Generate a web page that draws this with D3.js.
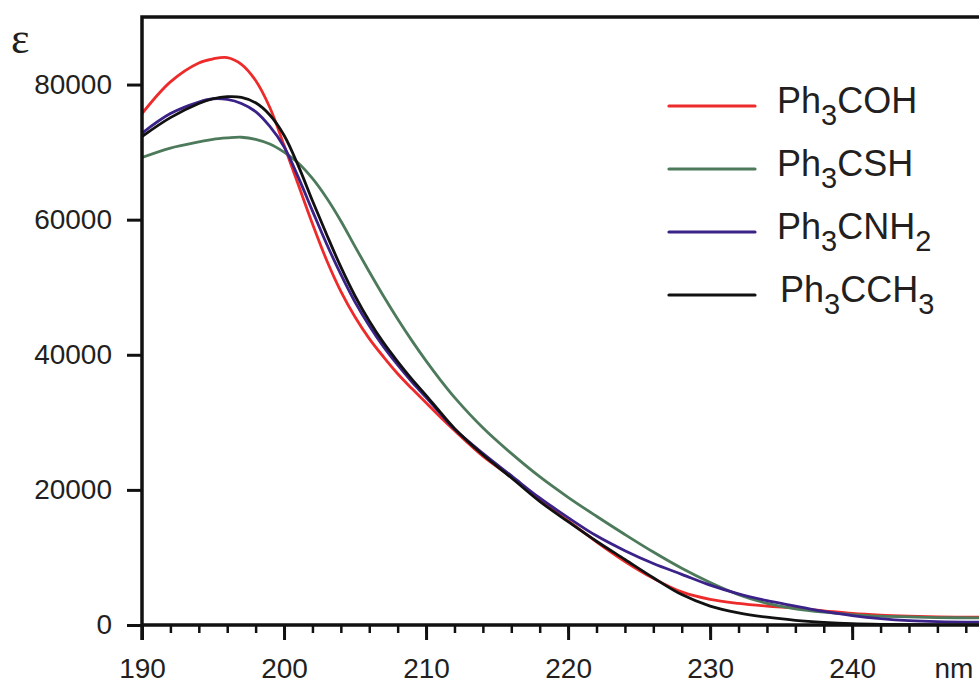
<!DOCTYPE html>
<html>
<head>
<meta charset="utf-8">
<script src="https://cdn.jsdelivr.net/npm/d3@7"></script>
<style>
  body { margin: 0; background: #fff; }
  svg { display: block; font-family: "Liberation Sans", Arial, sans-serif; }
  .tick text { fill: #231f20; }
</style>
</head>
<body>
<div id="chart"></div>
<script>
var width = 979;
var height = 684;

// wavelength (nm) at which each spectrum was read
var wavelengths = [190, 192, 194, 195, 196, 197, 198, 199, 200, 201, 202, 203, 204, 205, 206, 207,
  208, 209, 210, 211, 212, 214, 216, 218, 220, 222, 224, 226, 228, 230, 232, 234, 236, 238, 240,
  242, 244, 246, 249];

var ph3coh = [75700, 80400, 83200, 83800, 84000, 83000, 80600, 76600, 71000, 65200, 59400, 54000,
  49400, 45600, 42400, 39700, 37200, 35000, 32900, 30800, 28800, 25000, 21900, 18500, 15400, 12300,
  9400, 6900, 4900, 3800, 3200, 2800, 2500, 2100, 1700, 1450, 1300, 1200, 1150];

var ph3csh = [69200, 70600, 71500, 71900, 72100, 72200, 71900, 71200, 70000, 68400, 66100, 63200,
  59800, 56000, 52300, 48700, 45300, 42100, 39100, 36300, 33700, 29200, 25400, 21950, 18900, 16100,
  13400, 10800, 8400, 6300, 4500, 3200, 2400, 1900, 1550, 1300, 1200, 1100, 1050];

var ph3cnh2 = [72800, 75700, 77400, 77900, 77800, 77200, 76000, 73800, 70800, 66300, 61300, 56400,
  51900, 47800, 44300, 41200, 38500, 36000, 33700, 31300, 29000, 25400, 22100, 18800, 15900, 13200,
  11000, 9100, 7500, 5900, 4600, 3600, 2800, 2000, 1400, 950, 650, 500, 420];

var ph3cch3 = [72300, 75100, 77200, 77900, 78200, 78100, 77300, 75500, 72500, 68000, 62800, 57800,
  53000, 48700, 45000, 41800, 39000, 36400, 34000, 31500, 29100, 25200, 21800, 18300, 15300, 12400,
  9700, 7000, 4500, 2800, 1800, 1150, 700, 400, 200, 100, 50, 30, 20];

var seriesNames = [["Ph", "3", "COH", ""], ["Ph", "3", "CSH", ""], ["Ph", "3", "CNH", "2"], ["Ph", "3", "CCH", "3"]];
var seriesValues = [ph3coh, ph3csh, ph3cnh2, ph3cch3];
var colors = ["#ee2b2b", "#4d7a5b", "#3b2288", "#111111"];

var yTicks = [0, 20000, 40000, 60000, 80000];
var xTicks = [190, 200, 210, 220, 230, 240];
var xMinor = d3.range(190, 249, 2);

var plotLeft = 142, plotRight = 980, plotTop = 17, plotBottom = 625;

var x = d3.scaleLinear().domain([190, 249]).range([plotLeft, plotRight]);
var y = d3.scaleLinear().domain([0, 90000]).range([plotBottom, plotTop]);

var svg = d3.select('#chart')
    .append('svg')
    .attr('width', width)
    .attr('height', height);

// curves
var line = d3.line()
    .x(function (d) { return x(d[0]); })
    .y(function (d) { return y(d[1]); })
    .curve(d3.curveCatmullRom.alpha(0.5));

svg.append('clipPath').attr('id', 'plot')
  .append('rect')
    .attr('x', plotLeft).attr('y', plotTop)
    .attr('width', plotRight - plotLeft).attr('height', plotBottom - plotTop);

svg.append('g')
    .attr('clip-path', 'url(#plot)')
    .selectAll('path')
    .data(seriesValues)
    .enter()
    .append('path')
    .attr('d', function (vals) {
        return line(wavelengths.map(function (w, i) { return [w, vals[i]]; }));
    })
    .attr('fill', 'none')
    .attr('stroke', function (d, i) { return colors[i]; })
    .attr('stroke-width', 2.8)
    .attr('stroke-linejoin', 'round');

// y axis
var yAxis = svg.append('g')
    .attr('transform', 'translate(' + plotLeft + ',0)')
    .call(d3.axisLeft(y).tickValues(yTicks).tickSize(15).tickPadding(15).tickFormat(d3.format('d')));
yAxis.select('.domain').remove();
yAxis.selectAll('line').attr('stroke', '#111').attr('stroke-width', 3);
yAxis.selectAll('text').attr('font-size', 28);

// x axis, minor then major ticks
var xMinorAxis = svg.append('g')
    .attr('transform', 'translate(0,' + plotBottom + ')')
    .call(d3.axisBottom(x).tickValues(xMinor).tickSize(8).tickFormat(''));
xMinorAxis.select('.domain').remove();
xMinorAxis.selectAll('line').attr('stroke', '#111').attr('stroke-width', 2.5);

var xAxis = svg.append('g')
    .attr('transform', 'translate(0,' + plotBottom + ')')
    .call(d3.axisBottom(x).tickValues(xTicks).tickSize(15).tickPadding(18).tickFormat(d3.format('d')));
xAxis.select('.domain').remove();
xAxis.selectAll('line').attr('stroke', '#111').attr('stroke-width', 3);
xAxis.selectAll('text').attr('font-size', 28);

// frame
svg.append('path')
    .attr('d', 'M' + plotRight + ',' + plotTop + 'H' + plotLeft + 'V' + (plotBottom + 15) +
        'M' + plotLeft + ',' + plotBottom + 'H' + plotRight)
    .attr('fill', 'none')
    .attr('stroke', '#111')
    .attr('stroke-width', 3.5);

// unit labels
svg.append('text')
    .attr('x', 11).attr('y', 53)
    .attr('font-family', '"Liberation Serif", "DejaVu Serif", serif')
    .attr('font-size', 44)
    .attr('fill', '#231f20')
    .text('ε');

svg.append('text')
    .attr('x', 954).attr('y', 678)
    .attr('text-anchor', 'middle')
    .attr('font-size', 28)
    .attr('fill', '#231f20')
    .text('nm');

// legend
var legend = svg.selectAll('.legend')
    .data(seriesNames)
    .enter()
    .append('g')
    .attr('class', 'legend')
    .attr('transform', function (d, i) { return 'translate(669,' + (106 + i * 63) + ')'; });

legend.append('line')
    .attr('x1', 0).attr('x2', 86)
    .attr('stroke', function (d, i) { return colors[i]; })
    .attr('stroke-width', 3.2)
    .attr('stroke-linecap', 'round');

var label = legend.append('text')
    .attr('x', function (d, i) { return i === 3 ? 111 : 108; })
    .attr('y', 7)
    .attr('font-size', 36)
    .attr('fill', '#231f20');

label.each(function (d) {
    var t = d3.select(this);
    t.append('tspan').text(d[0]);
    t.append('tspan').attr('font-size', 29).attr('dy', 12).text(d[1]);
    t.append('tspan').attr('dy', -12).text(d[2]);
    if (d[3]) t.append('tspan').attr('font-size', 29).attr('dy', 12).text(d[3]);
});
</script>
</body>
</html>
